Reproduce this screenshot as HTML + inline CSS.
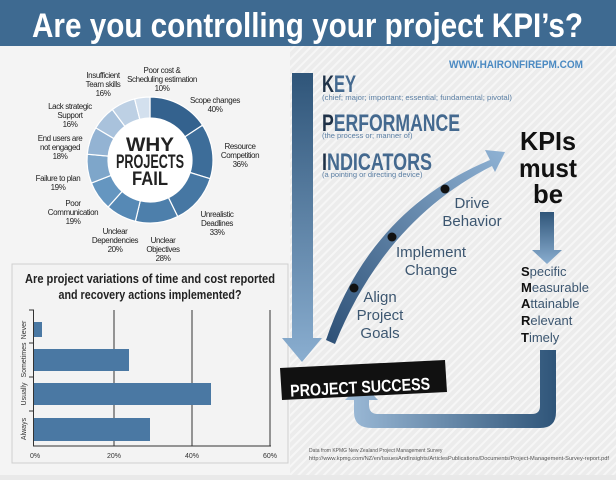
<!DOCTYPE html>
<html><head><meta charset="utf-8"><style>
html,body{margin:0;padding:0;}
body{width:616px;height:475px;overflow:hidden;background:#e9e9e9;font-family:"Liberation Sans",sans-serif;}
</style></head><body>
<svg id="s" width="616" height="475" viewBox="0 0 616 475" xmlns="http://www.w3.org/2000/svg" font-family="Liberation Sans, sans-serif">
<defs>
<pattern id="st" width="6" height="6" patternUnits="userSpaceOnUse" patternTransform="rotate(45)">
<rect width="6" height="6" fill="#ececec"/><rect width="2" height="6" fill="#f6f6f6"/></pattern>
<linearGradient id="vg" x1="0" y1="0" x2="0" y2="1"><stop offset="0" stop-color="#2f5579"/><stop offset="1" stop-color="#8aaed0"/></linearGradient>
<linearGradient id="cg" x1="0" y1="1" x2="1" y2="0"><stop offset="0" stop-color="#2d5076"/><stop offset="1" stop-color="#8fb2d4"/></linearGradient>
<linearGradient id="ug" x1="1" y1="0" x2="0" y2="0"><stop offset="0" stop-color="#2f5579"/><stop offset="1" stop-color="#9dbbd8"/></linearGradient>
</defs>
<rect width="616" height="475" fill="url(#st)"/>
<rect x="0" y="46" width="290" height="429" fill="#f4f4f4"/>
<rect x="0" y="0" width="616" height="46" fill="#3e6a91"/>
<text x="32" y="37" fill="#fff" font-weight="bold" font-size="34" textLength="551" lengthAdjust="spacingAndGlyphs">Are you controlling your project KPI’s?</text>
<g id="donut"></g>
<circle cx="150" cy="160" r="42" fill="#fff"/>
<g font-weight="bold" fill="#222" text-anchor="middle" font-size="19">
<text x="150" y="151" textLength="48" lengthAdjust="spacingAndGlyphs">WHY</text>
<text x="150" y="168" textLength="68" lengthAdjust="spacingAndGlyphs">PROJECTS</text>
<text x="150" y="185" textLength="36" lengthAdjust="spacingAndGlyphs">FAIL</text>
</g>
<g font-size="8" fill="#222" text-anchor="middle" letter-spacing="-0.4">
<text x="162" y="73">Poor cost &amp;</text><text x="162" y="82">Scheduling estimation</text><text x="162" y="91">10%</text>
<text x="103" y="78">Insufficient</text><text x="103" y="87">Team skills</text><text x="103" y="96">16%</text>
<text x="215" y="103">Scope changes</text><text x="215" y="112">40%</text>
<text x="70" y="109">Lack strategic</text><text x="70" y="118">Support</text><text x="70" y="127">16%</text>
<text x="60" y="141">End users are</text><text x="60" y="150">not engaged</text><text x="60" y="159">18%</text>
<text x="240" y="149">Resource</text><text x="240" y="158">Competition</text><text x="240" y="167">36%</text>
<text x="58" y="181">Failure to plan</text><text x="58" y="190">19%</text>
<text x="73" y="206">Poor</text><text x="73" y="215">Communication</text><text x="73" y="224">19%</text>
<text x="217" y="217">Unrealistic</text><text x="217" y="226">Deadlines</text><text x="217" y="235">33%</text>
<text x="115" y="234">Unclear</text><text x="115" y="243">Dependencies</text><text x="115" y="252">20%</text>
<text x="163" y="243">Unclear</text><text x="163" y="252">Objectives</text><text x="163" y="261">28%</text>
</g>
<rect x="12" y="264" width="276" height="199" fill="#f3f3f3" stroke="#cfcfcf"/>
<g font-weight="bold" font-size="12.5" fill="#222" text-anchor="middle">
<text x="150" y="283" textLength="250" lengthAdjust="spacingAndGlyphs">Are project variations of time and cost reported</text>
<text x="150" y="299" textLength="183" lengthAdjust="spacingAndGlyphs">and recovery actions implemented?</text>
</g>
<g stroke="#333" stroke-width="1">
<line x1="114" y1="310" x2="114" y2="446"/><line x1="192" y1="310" x2="192" y2="446"/><line x1="270" y1="310" x2="270" y2="446"/>
<line x1="33.5" y1="310" x2="33.5" y2="446"/><line x1="33" y1="446" x2="271" y2="446"/>
<line x1="29" y1="343" x2="34" y2="343"/><line x1="29" y1="377" x2="34" y2="377"/><line x1="29" y1="411" x2="34" y2="411"/><line x1="29" y1="310" x2="34" y2="310"/>
</g>
<g fill="#4a78a3">
<rect x="34" y="322" width="8" height="15"/><rect x="34" y="349" width="95" height="22"/>
<rect x="34" y="383" width="177" height="22"/><rect x="34" y="418" width="116" height="23"/>
</g>
<g font-size="7" fill="#333">
<text x="30" y="458">0%</text><text x="107" y="458">20%</text><text x="185" y="458">40%</text><text x="263" y="458">60%</text>
<text transform="translate(26,330) rotate(-90)" text-anchor="middle">Never</text>
<text transform="translate(26,360) rotate(-90)" text-anchor="middle">Sometimes</text>
<text transform="translate(26,394) rotate(-90)" text-anchor="middle">Usually</text>
<text transform="translate(26,429) rotate(-90)" text-anchor="middle">Always</text>
</g>
<text x="583" y="68" fill="#4b8ac2" font-weight="bold" font-size="11" text-anchor="end" textLength="134" lengthAdjust="spacingAndGlyphs">WWW.HAIRONFIREPM.COM</text>
<path d="M292 73 H313 V338 H322 L302 362 L282 338 H292 Z" fill="url(#vg)"/>
<g fill="#1e3147" font-weight="bold">
<text x="322" y="92" font-size="24" textLength="34" lengthAdjust="spacingAndGlyphs">K<tspan fill="#44698f">EY</tspan></text>
<text x="322" y="131" font-size="24" textLength="138" lengthAdjust="spacingAndGlyphs">P<tspan fill="#44698f">ERFORMANCE</tspan></text>
<text x="322" y="170" font-size="24" textLength="110" lengthAdjust="spacingAndGlyphs">I<tspan fill="#44698f">NDICATORS</tspan></text>
</g>
<g fill="#5a7ea3" font-size="7.5">
<text x="322" y="100" textLength="190" lengthAdjust="spacingAndGlyphs">(chief; major; important; essential; fundamental; pivotal)</text>
<text x="322" y="138">(the process or; manner of)</text>
<text x="322" y="177">(a pointing or directing device)</text>
</g>
<path d="M326 340 Q370 210 490 160 L485 150 L505 152 L495 172 L492 166 Q385 220 335 344 Z" fill="url(#cg)"/>
<g fill="#111"><circle cx="354" cy="288" r="4.5"/><circle cx="392" cy="237" r="4.5"/><circle cx="445" cy="189" r="4.5"/></g>
<g fill="#3c5670" font-size="15" text-anchor="middle">
<text x="380" y="302">Align</text><text x="380" y="320">Project</text><text x="380" y="338">Goals</text>
<text x="431" y="257">Implement</text><text x="431" y="275">Change</text>
<text x="472" y="208">Drive</text><text x="472" y="226">Behavior</text>
</g>
<g fill="#111" font-weight="bold" font-size="26" text-anchor="middle">
<text x="548" y="150" textLength="56" lengthAdjust="spacingAndGlyphs">KPIs</text>
<text x="548" y="177" textLength="58" lengthAdjust="spacingAndGlyphs">must</text>
<text x="548" y="203" textLength="30" lengthAdjust="spacingAndGlyphs">be</text>
</g>
<path d="M540 212 H554 V250 H562 L547 264 L532 250 H540 Z" fill="url(#vg)"/>
<g font-size="13" fill="#3c5670">
<text x="521" y="276"><tspan font-weight="bold" fill="#111">S</tspan>pecific</text>
<text x="521" y="292"><tspan font-weight="bold" fill="#111">M</tspan>easurable</text>
<text x="521" y="308"><tspan font-weight="bold" fill="#111">A</tspan>ttainable</text>
<text x="521" y="325"><tspan font-weight="bold" fill="#111">R</tspan>elevant</text>
<text x="521" y="342"><tspan font-weight="bold" fill="#111">T</tspan>imely</text>
</g>
<path d="M540 350 H556 V412 Q556 428 540 428 H372 Q354 428 354 412 V400 H345 L362 383 L378 400 H369 V405 Q369 414 378 414 H532 Q540 414 540 406 Z" fill="url(#ug)"/>
<path d="M280 368 L445 360 L447 392 L282 400 Z" fill="#111"/>
<text x="290" y="393" fill="#fff" font-weight="bold" font-size="17" textLength="140" lengthAdjust="spacingAndGlyphs" transform="rotate(-3 360 385)">PROJECT SUCCESS</text>
<g fill="#555" font-size="5">
<text x="309" y="452">Data from KPMG New Zealand Project Management Survey</text>
<text x="309" y="460" textLength="300" lengthAdjust="spacingAndGlyphs">http://www.kpmg.com/NZ/en/IssuesAndInsights/ArticlesPublications/Documents/Project-Management-Survey-report.pdf</text>
</g>
</svg>
<script>
(function(){
var vals=[40,36,33,28,20,19,19,18,16,16,10];
var cols=["#34628e","#3d6d99","#4677a3","#4d7fab","#5689b5","#6596c0","#7ea6ca","#93b3d3","#a9c2dc","#bdd0e4","#d3e0ee"];
var tot=0;vals.forEach(function(v){tot+=v;});
var cx=150,cy=160,R=63,r=42,a=-Math.PI/2,g=document.getElementById('donut'),h='';
vals.forEach(function(v,i){
var b=a+v/tot*2*Math.PI,l=(b-a)>Math.PI?1:0;
function p(rr,t){return (cx+rr*Math.cos(t)).toFixed(2)+' '+(cy+rr*Math.sin(t)).toFixed(2);}
h+='<path d="M'+p(R,a)+' A'+R+' '+R+' 0 '+l+' 1 '+p(R,b)+' L'+p(r,b)+' A'+r+' '+r+' 0 '+l+' 0 '+p(r,a)+' Z" fill="'+cols[i]+'" stroke="#fff" stroke-width="1.2"/>';
a=b;});
g.innerHTML=h;
})();
</script>
</body></html>
